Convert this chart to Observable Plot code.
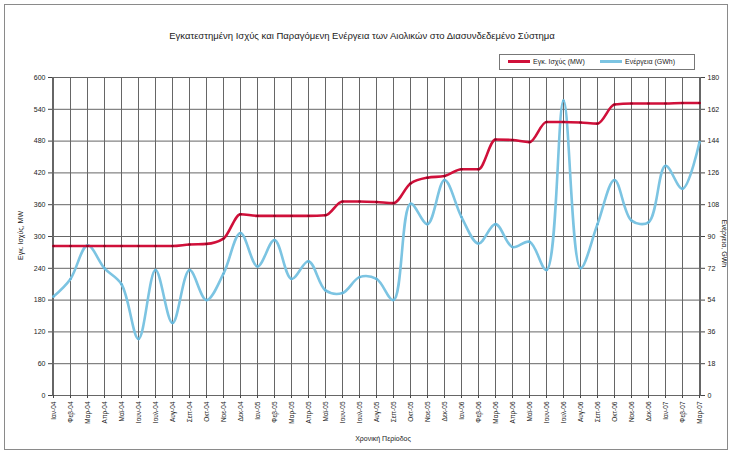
<!DOCTYPE html>
<html><head><meta charset="utf-8">
<script src="https://cdn.jsdelivr.net/npm/d3@7"></script>
<script src="https://cdn.jsdelivr.net/npm/@observablehq/plot@0.6"></script>
<style>
body{margin:0;background:#fff;font-family:"Liberation Sans",Arial,sans-serif;}
#wrap{position:relative;width:730px;height:456px;overflow:hidden;background:#fff}
#frame{position:absolute;left:4px;top:4px;width:724px;height:446px;border:1px solid #8a8a8a;box-sizing:border-box;pointer-events:none}
#title{position:absolute;left:0;width:724px;top:30px;text-align:center;font-size:9.5px;color:#222}
#legend{position:absolute;left:499px;top:54px;width:196px;height:16px;border:1px solid #777;box-sizing:border-box;font-size:7px;color:#222;background:#fff}
.li{position:absolute;top:3px;display:flex;align-items:center;white-space:nowrap}
.sw{display:inline-block;width:22px;height:2.5px;margin-right:3px}
.ytitle{position:absolute;font-size:7px;color:#222;white-space:nowrap;transform-origin:center center}
#xtitle{position:absolute;left:330px;width:106px;top:435px;text-align:center;font-size:7px;color:#222}
#chart{position:absolute;left:0;top:0}
</style>
</head><body>
<div id="wrap">
  <div id="chart"></div>
  <div id="title"></div>
  <div id="legend"></div>
  <div class="ytitle" id="ytl"></div>
  <div class="ytitle" id="ytr"></div>
  <div id="xtitle"></div>
  <div id="frame"></div>
</div>
<script>
// ---- data ----
const titleText = "Εγκατεστημένη Ισχύς και Παραγόμενη Ενέργεια των Αιολικών στο Διασυνδεδεμένο Σύστημα";
const seriesNames = ["Εγκ. Ισχύς (MW)", "Ενέργεια (GWh)"];
const leftAxisTitle = "Εγκ. Ισχύς, MW";
const rightAxisTitle = "Ενέργεια, GWh";
const xAxisTitle = "Χρονική Περίοδος";
const months = [
  "Ιαν-04","Φεβ-04","Μαρ-04","Απρ-04","Μαϊ-04","Ιουν-04","Ιουλ-04","Αυγ-04","Σεπ-04","Οκτ-04","Νοε-04","Δεκ-04",
  "Ιαν-05","Φεβ-05","Μαρ-05","Απρ-05","Μαϊ-05","Ιουν-05","Ιουλ-05","Αυγ-05","Σεπ-05","Οκτ-05","Νοε-05","Δεκ-05",
  "Ιαν-06","Φεβ-06","Μαρ-06","Απρ-06","Μαϊ-06","Ιουν-06","Ιουλ-06","Αυγ-06","Σεπ-06","Οκτ-06","Νοε-06","Δεκ-06",
  "Ιαν-07","Φεβ-07","Μαρ-07"
];
const capacityMW = [282,282,282,282,282,282,282,282,285,286,296,342,339,339,339,339,340,366,366,365,363,400,411,414,427,427,483,482,478,516,516,515,513,549,551,551,551,552,552];
const energyGWh = [56,66,85,72,63,32,71,41,71,54,69,92,73,88,66,76,59.5,58,67,66,54,108.6,97,122,101,86,97,84,87,71,167,72,97,122,99,98,130,117,143.5];
const leftTicks = [0,60,120,180,240,300,360,420,480,540,600];
const rightTickLabels = ["0","18","36","54","72","90","108","126","144","162","180"];
const leftMax = 600, rightMax = 180;

// ---- build ----
const rows = months.map((m, i) => ({m, mw: capacityMW[i], gwh: energyGWh[i]}));
const red = "#d0103a", blue = "#7cc4e2", grid = "#666666";

const chart = Plot.plot({
  width: 730, height: 456,
  marginLeft: 52, marginRight: 30, marginTop: 77, marginBottom: 61,
  style: {fontFamily: "Liberation Sans, Arial, sans-serif", color: "#222", background: "transparent"},
  x: {type: "point", domain: months, padding: 0},
  y: {domain: [0, leftMax]},
  marks: [
    Plot.gridY(leftTicks, {stroke: grid, strokeOpacity: 1, strokeWidth: 1}),
    Plot.gridX(months, {stroke: grid, strokeOpacity: 1, strokeWidth: 1}),
    Plot.frame({stroke: grid}),
    Plot.axisY(leftTicks, {anchor: "left", tickSize: 4, tickPadding: 3, fontSize: 7, label: null, stroke: "#444"}),
    Plot.axisY(leftTicks, {anchor: "right", tickSize: 4, tickPadding: 3, fontSize: 7, label: null, stroke: "#444",
      tickFormat: d => rightTickLabels[leftTicks.indexOf(d)]}),
    Plot.axisX(months, {tickRotate: -90, tickSize: 3, tickPadding: 3, fontSize: 6.5, label: null, stroke: "#444"}),
    Plot.line(rows, {x: "m", y: d => d.gwh * leftMax / rightMax, stroke: blue, strokeWidth: 2.6, curve: "catmull-rom"}),
    Plot.dot(rows, {x: "m", y: d => d.gwh * leftMax / rightMax, fill: "#5fb3d8", r: 1.2}),
    Plot.line(rows, {x: "m", y: "mw", stroke: red, strokeWidth: 2.6, curve: "monotone-x"}),
    Plot.dot(rows, {x: "m", y: "mw", fill: "#8a0020", r: 1.2})
  ]
});
document.getElementById("chart").appendChild(chart);

document.getElementById("title").textContent = titleText;
const lg = document.getElementById("legend");
lg.innerHTML =
  `<div class="li" style="left:8px"><span class="sw" style="background:${red}"></span>${seriesNames[0]}</div>` +
  `<div class="li" style="left:100px"><span class="sw" style="background:${blue}"></span>${seriesNames[1]}</div>`;
const ytl = document.getElementById("ytl");
ytl.textContent = leftAxisTitle;
ytl.style.left = (20 - 30) + "px"; ytl.style.top = "232px"; ytl.style.width = "60px"; ytl.style.textAlign = "center";
ytl.style.transform = "rotate(-90deg)";
const ytr = document.getElementById("ytr");
ytr.textContent = rightAxisTitle;
ytr.style.left = (724 - 30) + "px"; ytr.style.top = "240px"; ytr.style.width = "60px"; ytr.style.textAlign = "center";
ytr.style.transform = "rotate(90deg)";
document.getElementById("xtitle").textContent = xAxisTitle;
</script>
</body></html>
